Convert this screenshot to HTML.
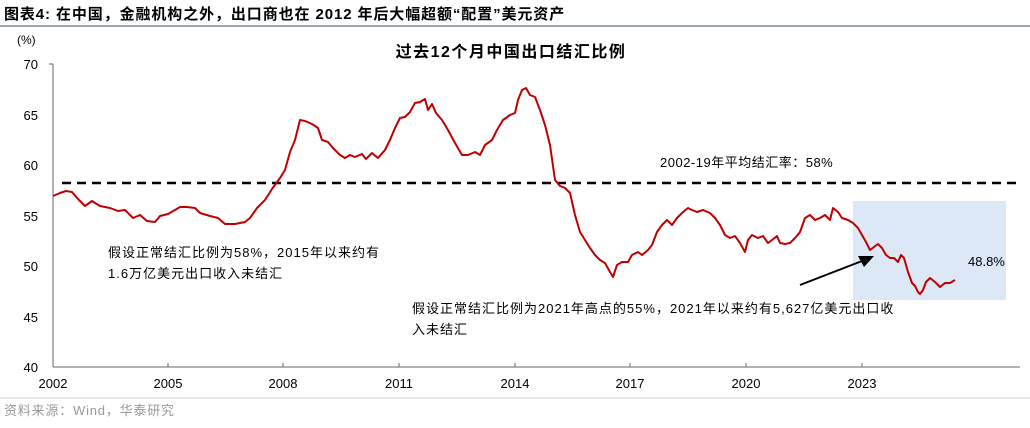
<!DOCTYPE html>
<html><head><meta charset="utf-8"><style>
body{margin:0;background:#fff;width:1030px;height:423px;overflow:hidden;font-family:"Liberation Sans","Noto Sans CJK SC",sans-serif}
svg text{font-family:"Liberation Sans","Noto Sans CJK SC",sans-serif}
</style></head><body>
<svg width="1030" height="423" viewBox="0 0 1030 423">
<text x="4" y="19" font-size="15" font-weight="bold" fill="#000" letter-spacing="0.9">图表4:  在中国，金融机构之外，出口商也在 2012 年后大幅超额“配置”美元资产</text>
<line x1="0" y1="26" x2="1030" y2="26" stroke="#7f8c9a" stroke-width="1.5"/>
<text x="17" y="44" font-size="12" fill="#000">(%)</text>
<text x="511" y="57" font-size="16" font-weight="bold" text-anchor="middle" fill="#000" letter-spacing="1.5">过去12个月中国出口结汇比例</text>
<rect x="853" y="201" width="153" height="99" fill="#dce8f5"/>
<g font-size="13" fill="#000" text-anchor="end">
<text x="38" y="69">70</text><text x="38" y="120">65</text><text x="38" y="170">60</text><text x="38" y="221">55</text><text x="38" y="271">50</text><text x="38" y="322">45</text><text x="38" y="372">40</text>
</g>
<line x1="53" y1="64" x2="53" y2="367" stroke="#666"/>
<g stroke="#666"><line x1="49" y1="64" x2="53" y2="64"/><line x1="53" y1="367" x2="1020" y2="367"/>
<line x1="168" y1="363" x2="168" y2="367"/><line x1="283" y1="363" x2="283" y2="367"/><line x1="399" y1="363" x2="399" y2="367"/><line x1="515" y1="363" x2="515" y2="367"/><line x1="630" y1="363" x2="630" y2="367"/><line x1="746" y1="363" x2="746" y2="367"/><line x1="862" y1="363" x2="862" y2="367"/></g>
<g font-size="13" fill="#000" text-anchor="middle">
<text x="53" y="388">2002</text><text x="168" y="388">2005</text><text x="283" y="388">2008</text><text x="399" y="388">2011</text><text x="515" y="388">2014</text><text x="630" y="388">2017</text><text x="746" y="388">2020</text><text x="862" y="388">2023</text>
</g>
<line x1="62" y1="183" x2="1020" y2="183" stroke="#000" stroke-width="2.5" stroke-dasharray="9,6"/>
<text x="660" y="167" font-size="13" fill="#000" letter-spacing="0.5">2002-19年平均结汇率：58%</text>
<polyline fill="none" stroke="#c00000" stroke-width="2" stroke-linejoin="round" points="53,196 60,193 66,191 72,192 78,199 85,206 92,201 100,206 110,208 118,211 125,210 133,218 140,215 147,221 155,222 160,216 168,214 175,210 180,207 187,207 195,208 200,213 210,216 218,218 225,224 235,224 245,222 250,218 257,208 265,200 272,189 280,178 285,170 290,152 295,140 300,120 305,121 312,124 318,128 322,140 328,142 333,148 340,155 345,158 350,155 355,157 362,154 366,159 372,153 378,158 385,150 390,140 395,128 400,118 405,117 410,112 415,103 420,102 425,99 428,110 432,104 436,113 442,120 448,130 455,143 462,155 468,155 475,152 480,155 485,145 492,140 497,130 503,120 510,115 515,113 518,100 522,90 526,88 530,95 535,97 540,110 545,125 550,145 555,180 560,186 565,188 570,193 575,215 580,232 585,240 590,248 595,255 600,260 605,263 610,272 613,277 617,265 622,262 628,262 632,255 638,252 642,255 648,250 652,245 657,232 662,225 667,220 672,225 677,218 682,213 688,208 692,210 697,212 703,210 710,213 715,218 720,225 725,235 730,238 735,236 740,243 745,252 748,240 752,235 758,238 763,236 768,243 772,240 777,236 780,243 785,244 790,243 795,238 800,232 805,218 810,215 815,220 820,218 825,215 830,220 833,208 838,212 842,218 848,220 853,223 858,228 862,235 866,242 870,250 874,247 878,244 882,248 886,255 890,258 894,258 898,262 901,255 904,258 908,272 912,283 915,286 918,292 920,294 923,290 926,282 930,278 935,282 940,287 945,283 950,283 955,280"/>
<line x1="800" y1="285" x2="862" y2="261" stroke="#000" stroke-width="2"/>
<polygon points="874,256 858,256 864,267" fill="#000"/>
<text x="968" y="266" font-size="13" fill="#000">48.8%</text>
<g font-size="13" fill="#000" letter-spacing="1">
<text x="108" y="257">假设正常结汇比例为58%，2015年以来约有</text>
<text x="108" y="278">1.6万亿美元出口收入未结汇</text>
<text x="412" y="313">假设正常结汇比例为2021年高点的55%，2021年以来约有5,627亿美元出口收</text>
<text x="412" y="334">入未结汇</text>
</g>
<line x1="0" y1="398" x2="1030" y2="398" stroke="#c8d4e0" stroke-width="1"/>
<text x="4" y="415" font-size="13" fill="#999" letter-spacing="0.8">资料来源：Wind，华泰研究</text>
</svg>
</body></html>
